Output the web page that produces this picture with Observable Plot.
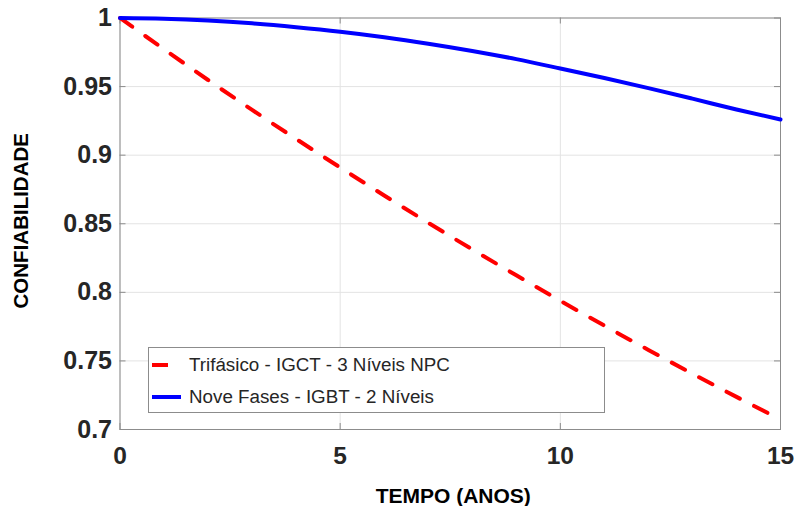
<!DOCTYPE html>
<html>
<head>
<meta charset="utf-8">
<script src="https://cdn.jsdelivr.net/npm/d3@7"></script>
<script src="https://cdn.jsdelivr.net/npm/@observablehq/plot@0.6"></script>
<style>
  html, body { margin: 0; padding: 0; background: #fff; }
  #wrap { position: relative; width: 798px; height: 506px; font-family: "Liberation Sans", Arial, Helvetica, sans-serif; }
  #legend { position: absolute; left: 148px; top: 347px; width: 457px; height: 66px; border: 1px solid #8c8c8c; background: #fff; box-sizing: border-box; }
  .item { position: absolute; left: 0; height: 30px; display: flex; align-items: center; font-size: 18.8px; color: #262626; white-space: nowrap; }
  .item svg { margin-left: 3px; margin-right: 8px; }
</style>
</head>
<body>
<div id="wrap"></div>
<script>
// ---- data ----
const anos = [0, 1, 2, 3, 4, 5, 6, 7, 8, 9, 10, 11, 12, 13, 14, 15];
const trifasico = [1.0000, 0.9772, 0.9548, 0.9330, 0.9118, 0.8910, 0.8706, 0.8507, 0.8313, 0.8124, 0.7938, 0.7757, 0.7580, 0.7407, 0.7238, 0.7073];
const noveFases = [1.0000, 0.9995, 0.9982, 0.9961, 0.9933, 0.9900, 0.9860, 0.9813, 0.9760, 0.9700, 0.9632, 0.9562, 0.9489, 0.9412, 0.9333, 0.9260];
const serieNomes = ["Trifásico - IGCT - 3 Níveis NPC", "Nove Fases - IGBT - 2 Níveis"];
const xTicks = [0, 5, 10, 15];
const yTicks = [0.7, 0.75, 0.8, 0.85, 0.9, 0.95, 1];
const xLabel = "TEMPO (ANOS)";
const yLabel = "CONFIABILIDADE";

const rowsA = anos.map((t, i) => ({t, r: trifasico[i]}));
const rowsB = anos.map((t, i) => ({t, r: noveFases[i]}));

const W = 798, H = 506;
const mL = 119.5, mR = 18, mT = 17.5, mB = 77;
const pw = W - mL - mR, ph = H - mT - mB;
const ink = "#262626";
const font = '"Liberation Sans", Arial, Helvetica, sans-serif';

const chart = Plot.plot({
  width: W, height: H,
  marginLeft: mL, marginRight: mR, marginTop: mT, marginBottom: mB,
  style: {fontFamily: font, background: "#fff", color: ink, overflow: "visible"},
  x: {domain: [0, 15], ticks: xTicks},
  y: {domain: [0.7, 1], ticks: yTicks},
  marks: [
    Plot.gridX(xTicks, {stroke: "#e3e3e3", strokeOpacity: 1, strokeWidth: 1}),
    Plot.gridY(yTicks, {stroke: "#e3e3e3", strokeOpacity: 1, strokeWidth: 1}),
    // inward ticks on all sides
    Plot.tickX(xTicks, {x: d => d, insetTop: ph - 6, stroke: "#8c8c8c"}),
    Plot.tickX(xTicks, {x: d => d, insetBottom: ph - 6, stroke: "#8c8c8c"}),
    Plot.tickY(yTicks, {y: d => d, insetRight: pw - 6, stroke: "#8c8c8c"}),
    Plot.tickY(yTicks, {y: d => d, insetLeft: pw - 6, stroke: "#8c8c8c"}),
    Plot.frame({stroke: "#8c8c8c", strokeWidth: 1}),
    Plot.axisX(xTicks, {tickSize: 0, tickPadding: 17, fontSize: 24.5, fontWeight: "bold", fill: ink, label: null, tickFormat: d => String(d)}),
    Plot.axisY(yTicks, {tickSize: 0, tickPadding: 8, fontSize: 25, fontWeight: "bold", fill: ink, label: null, tickFormat: d => String(+d.toFixed(2))}),
    Plot.line(rowsA, {x: "t", y: "r", stroke: "#ff0000", strokeWidth: 4, strokeDasharray: "15,16", curve: "monotone-x"}),
    Plot.line(rowsB, {x: "t", y: "r", stroke: "#0000ff", strokeWidth: 4, curve: "monotone-x"}),
    Plot.text([xLabel], {text: d => d, frameAnchor: "bottom", lineAnchor: "middle", dy: 67, dx: 3, fontSize: 21, fontWeight: "bold", fill: "#000"}),
    Plot.text([yLabel], {text: d => d, frameAnchor: "left", textAnchor: "middle", lineAnchor: "middle", dx: -98.5, dy: -3, rotate: -90, fontSize: 20.5, fontWeight: "bold", fill: "#000"})
  ]
});

const wrap = document.getElementById("wrap");
wrap.appendChild(chart);

const legend = document.createElement("div");
legend.id = "legend";
const styles = [
  {color: "#ff0000", dash: "16,40", top: 2},
  {color: "#0000ff", dash: null, top: 34}
];
serieNomes.forEach((name, i) => {
  const s = styles[i];
  const item = document.createElement("div");
  item.className = "item";
  item.style.top = s.top + "px";
  item.innerHTML = `<svg width="29" height="8"><line x1="0" y1="4" x2="29" y2="4" stroke="${s.color}" stroke-width="4" ${s.dash ? `stroke-dasharray="${s.dash}"` : ""}/></svg><span>${name}</span>`;
  legend.appendChild(item);
});
wrap.appendChild(legend);
</script>
</body>
</html>
